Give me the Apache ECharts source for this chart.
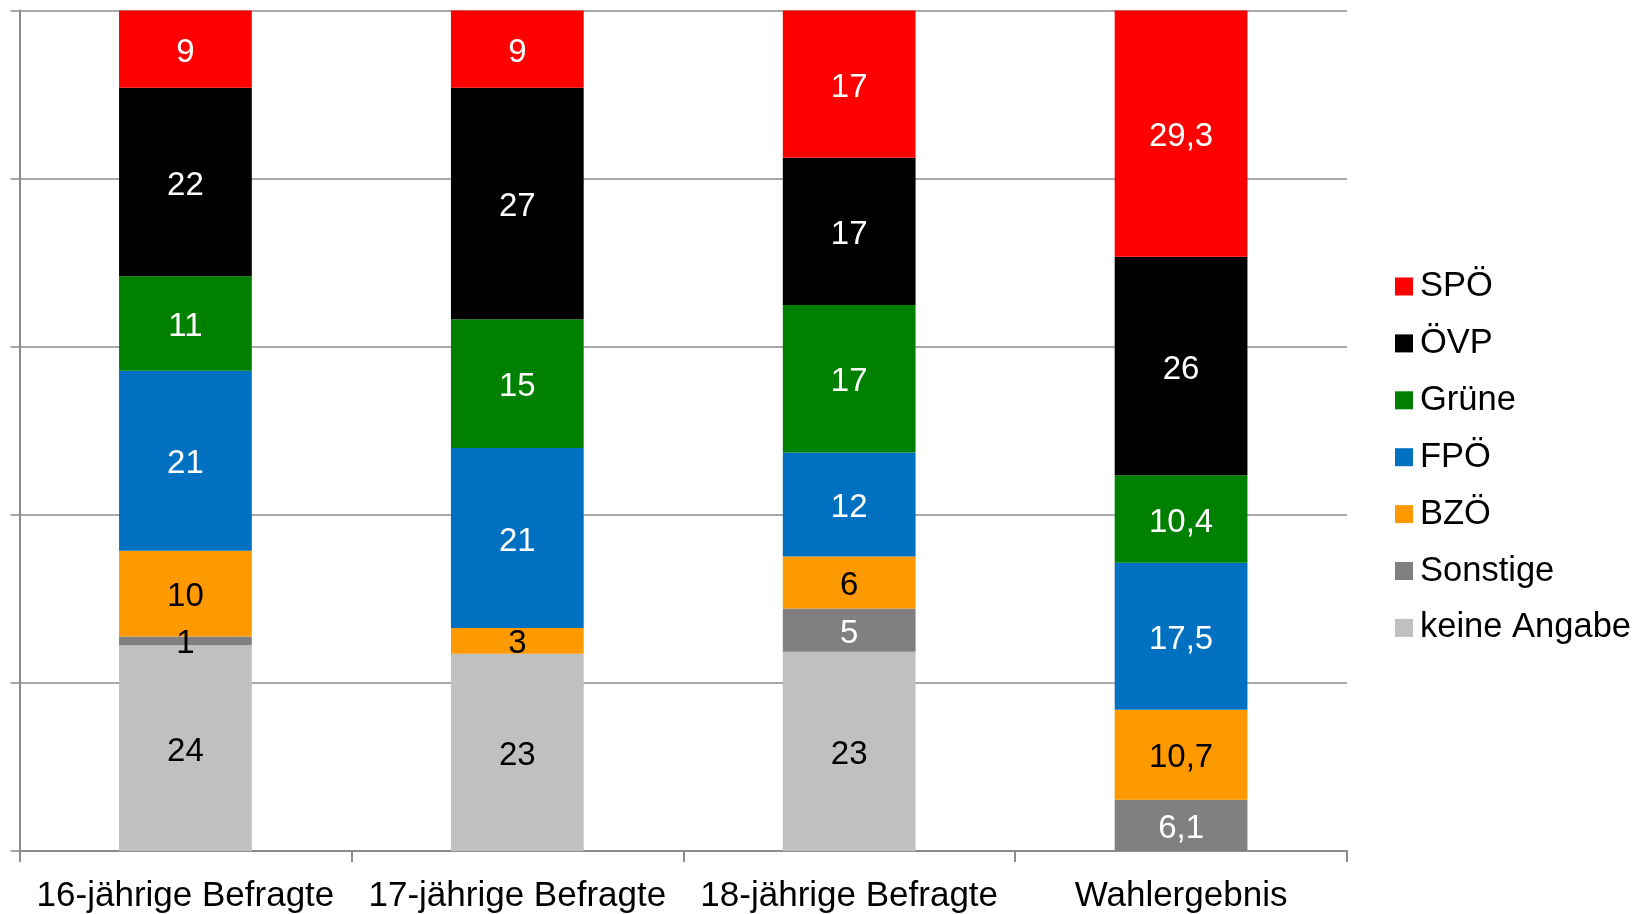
<!DOCTYPE html>
<html>
<head>
<meta charset="utf-8">
<script src="https://cdn.jsdelivr.net/npm/echarts@6/dist/echarts.min.js"></script>
<style>
  html, body { margin: 0; padding: 0; background: #fff; }
  #chart { width: 1647px; height: 914px; }
</style>
</head>
<body>
<div id="chart"></div>
<script>
// Kategorien und Werte (Prozent)
var categories = ["16-jährige Befragte", "17-jährige Befragte", "18-jährige Befragte", "Wahlergebnis"];
var spoe = [9, 9, 17, 29.3];
var oevp = [22, 27, 17, 26];
var gruene = [11, 15, 17, 10.4];
var fpoe = [21, 21, 12, 17.5];
var bzoe = [10, 3, 6, 10.7];
var sonstige = [1, 0, 5, 6.1];
var keineAngabe = [24, 23, 23, 0];

// von unten nach oben gestapelt
var parties = [
  { name: "keine Angabe", values: keineAngabe, color: "#C0C0C0", text: "#000" },
  { name: "Sonstige", values: sonstige, color: "#808080", text: "#fff" },
  { name: "BZÖ", values: bzoe, color: "#FF9900", text: "#000" },
  { name: "FPÖ", values: fpoe, color: "#0070C0", text: "#fff" },
  { name: "Grüne", values: gruene, color: "#008000", text: "#fff" },
  { name: "ÖVP", values: oevp, color: "#000000", text: "#fff" },
  { name: "SPÖ", values: spoe, color: "#FF0000", text: "#fff" }
];

// Summen je Kategorie für 100%-Stapel
var totals = categories.map(function (c, i) {
  var s = 0;
  parties.forEach(function (p) { s += p.values[i]; });
  return s;
});

var font = "Liberation Sans, Arial, sans-serif";

var series = parties.map(function (p) {
  return {
    name: p.name,
    type: "bar",
    stack: "total",
    barWidth: "40%",
    itemStyle: { color: p.color },
    label: {
      show: true,
      position: "inside",
      offset: [0, 3.5],
      color: p.text,
      fontSize: 33,
      fontFamily: font,
      formatter: function (d) {
        var raw = p.values[d.dataIndex];
        return raw ? String(raw).replace(".", ",") : "";
      }
    },
    data: p.values.map(function (v, i) {
      var pct = v / totals[i] * 100;
      var item = { value: pct };
      // sehr schmale Segmente: Beschriftung schwarz
      if (v > 0 && pct < 2) item.label = { color: "#000" };
      return item;
    })
  };
});

var myChart = echarts.init(document.getElementById("chart"));
myChart.setOption({
  animation: false,
  textStyle: { fontFamily: font },
  grid: { left: 19.5, right: 300, top: 10.5, bottom: 63 },
  legend: {
    orient: "vertical",
    left: 1395,
    top: 269,
    padding: 0,
    itemWidth: 18,
    itemHeight: 18,
    itemGap: 21.9,
    icon: "rect",
    data: ["SPÖ", "ÖVP", "Grüne", "FPÖ", "BZÖ", "Sonstige", "keine Angabe"],
    textStyle: { fontSize: 34.5, color: "#000", fontFamily: font, lineHeight: 34, padding: [0, 0, 0, 2] }
  },
  xAxis: {
    type: "category",
    data: categories,
    axisLine: { show: true, lineStyle: { color: "#8c8c8c", width: 2 } },
    axisTick: { show: true, length: 11, lineStyle: { color: "#8c8c8c", width: 2 } },
    axisLabel: { interval: 0, color: "#000", fontSize: 35, fontFamily: font, margin: 28 }
  },
  yAxis: {
    type: "value",
    min: 0,
    max: 100,
    interval: 20,
    axisLine: { show: true, lineStyle: { color: "#8c8c8c", width: 2 } },
    axisTick: { show: true, length: 9, lineStyle: { color: "#8c8c8c", width: 1.5 } },
    axisLabel: { show: false },
    splitLine: { lineStyle: { color: "#8c8c8c", width: 1.5 } }
  },
  series: series
});
</script>
</body>
</html>
